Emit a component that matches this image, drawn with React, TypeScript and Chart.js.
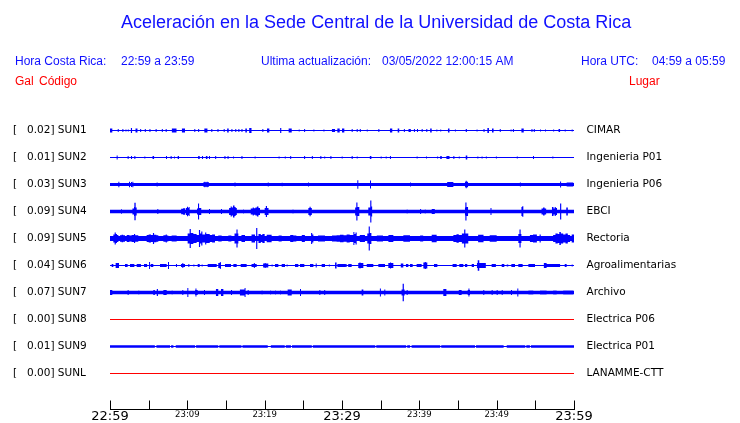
import React, { useEffect, useRef } from 'react';
import { Chart, registerables } from 'chart.js';

Chart.register(...registerables);

// ---------------- data ----------------
const stationCodes = ['SUN1', 'SUN2', 'SUN3', 'SUN4', 'SUN5', 'SUN6', 'SUN7', 'SUN8', 'SUN9', 'SUNL'];
const stationPlaces = ['CIMAR', 'Ingenieria P01', 'Ingenieria P06', 'EBCI', 'Rectoria', 'Agroalimentarias', 'Archivo', 'Electrica P06', 'Electrica P01', 'LANAMME-CTT'];
const peakGal = [0.02, 0.01, 0.03, 0.09, 0.09, 0.04, 0.07, 0.0, 0.01, 0.0];
// background noise half-width of each trace (trace units)
const noiseHalfWidth = [0.5, 0.5, 1.4, 1.7, 2.5, 0.5, 1.7, 0, 1.3, 0];
const hasSignal = [true, true, true, true, true, true, true, false, true, false];

type Burst = [number, number, number]; // [start minute, end minute, half amplitude]

const sun1Bursts: Burst[] = [
  [0, 0.3, 2], [1.0, 1.13, 1.5], [1.6, 1.73, 1.5], [2.0, 2.13, 1], [2.3, 2.43, 1], [2.7, 2.85, 2.5], [3.3, 3.55, 2], [3.9, 4.03, 1.5],
  [4.5, 4.63, 1.5], [5.1, 5.23, 1.5], [5.9, 6.03, 1.5], [6.7, 6.83, 1.5], [7.2, 7.33, 1.5], [8.0, 8.6, 2], [9.3, 9.7, 2], [10.9, 11.03, 1.5],
  [11.4, 11.53, 1.5], [12.2, 12.6, 2], [13.1, 13.23, 1.5], [13.9, 14.03, 1.5], [14.7, 14.83, 1.5], [15.15, 15.35, 2], [15.7, 15.83, 1.5],
  [16.2, 16.33, 1.5], [16.6, 16.73, 1.5], [17.0, 17.13, 1.5], [17.5, 17.7, 2], [18.0, 18.3, 2.5], [19.7, 19.83, 1.5], [20.3, 20.6, 2],
  [22.0, 22.15, 2.5], [23.1, 23.5, 2], [24.4, 24.53, 1], [25.1, 25.23, 1.5], [26.3, 26.43, 1], [27.6, 27.73, 1], [28.7, 29.1, 1.5],
  [29.4, 29.7, 2], [30.0, 30.3, 2], [31.25, 31.38, 1.5], [31.9, 32.03, 1.5], [32.3, 32.43, 1.5], [33.2, 33.33, 1], [34.7, 34.83, 1.5],
  [36.2, 36.5, 2], [37.2, 37.4, 2], [38.0, 38.13, 1.5], [38.6, 38.9, 1.5], [39.3, 39.43, 1.5], [39.7, 39.83, 1.5], [40.3, 40.43, 1.5],
  [40.9, 41.03, 1.5], [41.4, 41.6, 2], [42.2, 42.33, 1], [42.7, 42.83, 1], [43.7, 43.9, 2], [44.6, 44.73, 1], [46.0, 46.15, 1.5],
  [47.4, 47.53, 1], [48.3, 48.43, 1.5], [48.8, 49.0, 2.5], [49.4, 49.6, 2], [50.4, 50.53, 1.5], [51.8, 51.93, 1], [52.1, 52.23, 1.5],
  [53.2, 53.5, 2], [54.5, 54.63, 1.5], [54.8, 54.93, 1.5], [55.6, 55.73, 1], [56.25, 56.38, 1], [57.3, 57.43, 1], [58.0, 58.2, 1.5],
  [58.8, 58.93, 1], [59.7, 59.83, 1],
];

const sun2Bursts: Burst[] = [
  [0.86, 0.99, 2], [2.28, 2.41, 1.5], [2.72, 2.85, 1.5], [3.15, 3.28, 1.5], [4.44, 4.57, 1], [5.5, 5.7, 1.5], [7.24, 7.37, 1.5],
  [7.84, 7.97, 1.5], [8.28, 8.41, 1], [8.75, 8.92, 1.5], [11.4, 11.6, 1.5], [11.9, 12.03, 1.5], [12.4, 12.6, 1.5], [12.8, 12.93, 1.5],
  [13.6, 13.73, 1.5], [14.8, 14.93, 1.5], [15.2, 15.33, 1.5], [15.9, 16.03, 1], [17.0, 17.13, 1.5], [18.7, 18.83, 1], [21.8, 21.93, 1],
  [22.6, 22.73, 1], [23.3, 23.43, 1.5], [25.1, 25.23, 1.5], [26.1, 26.23, 1.5], [27.2, 27.33, 1.5], [27.7, 27.83, 1], [28.5, 28.63, 1.5],
  [29.96, 30.09, 1], [31.25, 31.38, 1.5], [31.9, 32.03, 1], [33.6, 33.8, 1.5], [35.0, 35.13, 1], [35.65, 35.78, 1], [36.2, 36.33, 1.5],
  [39.65, 39.78, 1], [40.86, 40.99, 1], [42.3, 42.43, 1], [42.7, 42.9, 1.5], [43.5, 43.9, 1.5], [44.4, 44.53, 1.5], [45.1, 45.23, 1],
  [46.0, 46.2, 2], [47.5, 47.63, 1], [48.05, 48.18, 1], [48.6, 48.73, 1], [49.9, 50.03, 1], [52.6, 52.73, 1], [54.7, 54.83, 1.5],
  [57.2, 57.33, 1],
];

const sun3Bursts: Burst[] = [
  [1.08, 1.21, 2.7], [2.46, 2.59, 2.7], [2.72, 2.85, 2.5], [2.89, 3.02, 2.7], [6.03, 6.16, 2], [12.07, 12.8, 2.3], [12.2, 12.33, 2.8],
  [12.5, 12.63, 2.8], [16.1, 16.23, 2], [20.4, 20.53, 2], [22.2, 22.33, 1.8], [25.6, 25.73, 2], [31.98, 32.11, 4.3], [33.62, 33.75, 4],
  [38.8, 38.93, 2], [43.6, 44.4, 2.5], [45.9, 46.3, 2.8], [46.0, 46.13, 3.8], [53.0, 53.13, 2], [58.2, 58.33, 3], [59.05, 59.9, 2],
];

const sun4Bursts: Burst[] = [
  [1.42, 1.55, 2.3], [2.9, 3.1, 3], [3.1, 3.15, 4.5], [3.15, 3.32, 8.8], [3.32, 3.45, 4], [6.12, 6.25, 2.5], [9.2, 9.45, 2.8], [9.45, 9.7, 3.3],
  [9.8, 9.95, 3.5], [9.95, 10.1, 4.7], [10.1, 10.2, 3.8], [10.2, 10.3, 4.5], [11.25, 11.38, 3], [11.38, 11.52, 8], [11.52, 11.8, 3.5],
  [12.8, 12.93, 2.5], [14.35, 14.48, 2.5], [15.4, 15.6, 3.5], [15.6, 15.75, 5], [15.75, 15.9, 4], [15.9, 16.1, 6], [16.1, 16.25, 4.5],
  [16.25, 16.4, 3.5], [17.2, 17.33, 2], [18.2, 18.45, 3], [18.45, 18.6, 4], [18.6, 18.8, 3.2], [18.8, 19.0, 4], [19.0, 19.2, 5],
  [19.2, 19.4, 3.5], [20.0, 20.15, 3.5], [20.15, 20.3, 5.5], [20.3, 20.5, 3.5], [23.6, 23.73, 2], [25.65, 25.8, 3.5], [25.8, 25.95, 4.7],
  [25.95, 26.1, 3.5], [31.7, 31.85, 4], [31.85, 32.0, 9], [32.0, 32.24, 4.5], [33.4, 33.65, 4], [33.65, 33.8, 11], [33.8, 33.9, 5],
  [38.36, 38.49, 2], [40.1, 40.23, 2.5], [40.7, 40.83, 2], [41.6, 42.0, 2.5], [45.9, 45.95, 4], [45.95, 46.1, 9], [46.1, 46.3, 4.5],
  [49.2, 49.33, 3.5], [53.2, 53.3, 4.5], [53.3, 53.45, 5.2], [55.8, 56.0, 3], [56.0, 56.2, 4], [56.2, 56.4, 3], [57.15, 57.35, 4.5],
  [57.35, 57.5, 3], [57.5, 57.65, 4.5], [57.65, 57.8, 3.5], [58.2, 58.35, 8], [59.0, 59.2, 4],
];

const sun5Bursts: Burst[] = [
  [0.43, 0.6, 4], [0.6, 0.75, 6], [0.75, 0.9, 4.5], [0.9, 1.08, 3.5], [1.29, 1.5, 3.2], [1.5, 1.7, 3.8], [1.7, 1.94, 3.2],
  [2.16, 2.5, 3.5], [2.5, 2.8, 3], [2.8, 3.1, 3.5], [3.1, 3.25, 4.5], [3.25, 3.66, 3.2], [4.74, 5.0, 3.5], [5.0, 5.3, 4], [5.3, 5.55, 3.5],
  [5.55, 5.7, 5.5], [5.7, 6.0, 3.8], [6.0, 6.25, 3.2], [6.9, 7.2, 3.2], [7.2, 7.35, 4], [7.35, 7.54, 3], [7.97, 8.62, 3],
  [10.04, 10.3, 5], [10.3, 10.45, 9.5], [10.45, 10.78, 5.5], [10.78, 11.2, 4.5], [11.2, 11.5, 3.5], [11.5, 11.65, 8.5], [11.65, 11.8, 5],
  [11.8, 11.95, 7], [11.95, 12.3, 4], [12.3, 12.45, 6], [12.45, 12.9, 4.5], [12.9, 13.2, 3.5], [13.2, 13.58, 4], [14.0, 14.44, 3],
  [15.3, 15.7, 3], [16.1, 16.35, 5], [16.35, 16.5, 9], [16.5, 16.6, 5], [17.0, 17.46, 3.5], [18.3, 18.75, 4], [18.9, 19.05, 10.5],
  [19.2, 19.5, 4.5], [19.5, 19.7, 3.5], [19.7, 20.0, 4.5], [20.26, 20.9, 3.8], [21.8, 22.2, 3], [23.3, 23.7, 3.5], [23.7, 24.1, 3],
  [24.8, 25.2, 3.5], [26.0, 26.15, 5.5], [26.15, 26.3, 4], [26.9, 27.8, 3], [28.7, 29.3, 3], [29.3, 29.74, 3.3], [29.74, 30.2, 3.8],
  [30.2, 30.6, 3.2], [30.6, 31.0, 4], [31.0, 31.47, 3.5], [31.47, 31.6, 6.5], [31.6, 31.75, 4.5], [31.75, 31.9, 6], [32.3, 32.97, 3.5],
  [33.27, 33.45, 5], [33.45, 33.6, 12], [33.6, 33.8, 5.5], [34.5, 35.3, 3], [36.0, 36.64, 3.5], [37.93, 38.79, 3.3], [40.1, 40.5, 3],
  [41.6, 42.24, 3.8], [44.4, 44.8, 3.5], [44.8, 45.1, 4.2], [45.1, 45.5, 3.6], [45.5, 45.8, 5], [45.8, 45.95, 9], [45.95, 46.33, 5],
  [47.6, 48.3, 3.8], [49.1, 50.0, 3.3], [52.8, 52.95, 4.5], [52.95, 53.1, 9], [53.1, 53.2, 4.5], [54.3, 54.7, 3.5], [54.7, 55.2, 4],
  [55.55, 55.7, 4], [57.3, 57.6, 3.5], [57.6, 57.9, 5], [57.9, 58.1, 4.5], [58.1, 58.3, 6.5], [58.3, 58.6, 5], [58.6, 58.9, 4],
  [58.9, 59.2, 5], [59.2, 59.5, 3.5], [59.7, 60, 4],
];

const sun6Bursts: Burst[] = [
  [0.22, 0.43, 1.5], [0.73, 1.16, 2.5], [1.94, 2.28, 1.5], [2.59, 3.15, 1.5], [3.45, 4.0, 1.5], [4.4, 4.8, 1.5], [5.05, 5.18, 3.5],
  [5.26, 5.6, 1.5], [6.47, 7.33, 1.5], [7.5, 7.63, 3.5], [8.53, 8.66, 1.5], [9.18, 9.7, 1.5], [9.35, 9.48, 2.5], [10.13, 10.26, 1.5],
  [10.78, 10.91, 1], [11.34, 11.6, 1.5], [11.85, 11.98, 1], [12.63, 13.8, 1.5], [14.0, 14.35, 2.5], [14.2, 14.33, 3.5], [14.87, 15.65, 1.5],
  [15.95, 16.38, 1.5], [16.9, 17.67, 1.5], [18.3, 18.97, 1.5], [18.6, 18.73, 2.5], [19.8, 20.47, 2], [20.0, 20.13, 2.5], [20.9, 21.03, 1],
  [21.34, 21.77, 1.5], [22.2, 22.63, 1.5], [22.84, 22.97, 1], [23.92, 24.35, 1.5], [24.57, 25.13, 1.5], [25.86, 26.3, 1.5], [26.6, 26.73, 2],
  [27.37, 27.8, 1.5], [28.3, 28.43, 1], [29.1, 29.3, 3], [29.4, 30.39, 1.5], [30.4, 30.6, 1.5], [30.8, 31.25, 1.5], [32.1, 32.76, 2.5],
  [32.25, 32.4, 3], [33.2, 34.05, 1.5], [34.7, 35.56, 1.5], [35.99, 36.64, 2.5], [36.2, 36.35, 3], [37.6, 37.93, 2], [38.27, 38.58, 1.5],
  [38.79, 39.14, 1.5], [39.65, 40.3, 1.5], [40.52, 41.03, 3], [40.7, 40.85, 3.5], [41.9, 42.33, 1.5], [44.3, 44.83, 1.5], [45.17, 45.69, 1.5],
  [45.9, 46.2, 1.5], [46.77, 47.07, 1.5], [47.45, 48.6, 2.5], [47.55, 47.75, 5.3], [49.35, 49.9, 1.5], [50.65, 50.99, 1.5], [51.3, 51.5, 1],
  [51.9, 52.37, 1.5], [52.8, 53.36, 1.5], [54.1, 54.96, 1.5], [56.1, 56.46, 2.5], [56.46, 58.2, 1.5], [58.8, 59.05, 1.5], [59.7, 59.83, 1],
];

const sun7Bursts: Burst[] = [
  [0, 0.3, 2.5], [2.28, 2.41, 2.5], [3.66, 3.79, 2], [5.6, 5.8, 2.5], [6.05, 6.2, 3.5], [6.9, 7.33, 2.5], [7.97, 8.1, 2], [9.35, 9.48, 2.5],
  [10.0, 10.13, 4.5], [11.0, 11.34, 2.5], [11.05, 11.18, 4], [12.15, 12.28, 2.5], [13.7, 14.0, 3.5], [14.35, 14.66, 3.5], [15.65, 15.78, 2.5],
  [16.8, 17.4, 3], [17.4, 17.53, 4.5], [17.8, 17.93, 2.5], [19.6, 19.73, 2], [20.7, 20.83, 2], [21.34, 21.47, 2], [21.98, 22.11, 2],
  [22.97, 23.5, 3], [24.57, 24.7, 3.5], [27.07, 27.2, 2.5], [27.7, 27.83, 2.5], [32.54, 32.76, 3], [34.9, 35.03, 4], [35.47, 35.6, 3],
  [37.7, 38.1, 3], [37.84, 38.0, 8.8], [38.36, 38.49, 2.5], [43.1, 43.5, 3.5], [45.1, 45.47, 2.5], [46.25, 46.55, 2.5], [46.35, 46.48, 4],
  [48.27, 48.4, 2.5], [49.35, 49.48, 2.5], [50.0, 50.13, 2.5], [50.65, 50.78, 2.5], [51.85, 51.98, 2.5], [52.67, 52.8, 4], [54.1, 54.74, 2],
  [55.6, 56.46, 2], [57.3, 57.76, 2], [58.6, 59.9, 2],
];

// quiet stretches (thinner than the usual noise band)
const sun9Bursts: Burst[] = [
  [5.8, 6.0, 0.6], [7.76, 7.9, 0.6], [8.2, 8.5, 0.6], [11.0, 11.13, 0.6], [14.0, 14.13, 0.6], [17.0, 17.13, 0.6], [20.4, 20.8, 0.6],
  [22.6, 22.73, 0.6], [23.4, 23.53, 0.6], [26.1, 26.23, 0.6], [34.3, 34.43, 0.6], [38.3, 38.43, 0.6], [38.8, 39.0, 0.6], [42.7, 42.83, 0.6],
  [47.2, 47.33, 0.6], [50.9, 51.3, 0.6], [53.7, 53.83, 0.6], [54.3, 54.43, 0.6],
];

const burstsByStation: Burst[][] = [sun1Bursts, sun2Bursts, sun3Bursts, sun4Bursts, sun5Bursts, sun6Bursts, sun7Bursts, [], sun9Bursts, []];

const windowMinutes = 60;
const xTickMinutes = [0, 5, 10, 15, 20, 25, 30, 35, 40, 45, 50, 55, 60];
const xTickLabels = ['22:59', '', '23:09', '', '23:19', '', '23:29', '', '23:39', '', '23:49', '', '23:59'];
const majorTimeLabels = ['22:59', '23:29', '23:59'];

const titleText = 'Aceleración en la Sede Central de la Universidad de Costa Rica';
const localTimeCaption = 'Hora Costa Rica:';
const localTimeRange = '22:59 a 23:59';
const updateCaption = 'Ultima actualización:';
const updateStamp = '03/05/2022 12:00:15 AM';
const utcCaption = 'Hora UTC:';
const utcTimeRange = '04:59 a 05:59';
const unitHeader = 'Gal';
const codeHeader = 'Código';
const placeHeader = 'Lugar';

// ---------------- styling / layout ----------------
const ROW_STEP = 27;
const Y_TOP = -20;
const Y_BOTTOM = 280;
const TRACE_BLUE = '#0000ff';
const NO_DATA_RED = '#ff0000';
const HEAD_BLUE = '#1010ff';
const HEAD_RED = '#ff0000';
const SANS = '"DejaVu Sans", sans-serif';
const HEAD = '"Liberation Sans", Arial, sans-serif';

function envelope(bursts: Burst[], base: number) {
  const edges = new Set<number>([0, windowMinutes]);
  bursts.forEach(([s, e]) => {
    edges.add(s);
    edges.add(e);
  });
  const xs = [...edges].sort((a, b) => a - b);
  const out: { x: number; v: number }[] = [];
  xs.forEach((x, k) => {
    if (k === xs.length - 1) {
      out.push({ x, v: out.length ? out[out.length - 1].v : base });
      return;
    }
    const mid = (x + xs[k + 1]) / 2;
    const covering = bursts.filter(([s, e]) => s <= mid && mid < e);
    const v = covering.length ? Math.max(...covering.map((b) => b[2])) : base;
    out.push({ x, v });
  });
  return out;
}

const headerPlugin = {
  id: 'headerText',
  afterDraw(chart: any) {
    const ctx = chart.ctx as CanvasRenderingContext2D;
    ctx.save();
    ctx.textBaseline = 'alphabetic';
    ctx.textAlign = 'left';
    ctx.fillStyle = HEAD_BLUE;
    ctx.font = `18px ${HEAD}`;
    ctx.fillText(titleText, 121, 28);
    ctx.font = `12px ${HEAD}`;
    ctx.fillText(localTimeCaption, 15, 65);
    ctx.fillText(localTimeRange, 121, 65);
    ctx.fillText(updateCaption, 261, 65);
    ctx.fillText(updateStamp, 382, 65);
    ctx.fillText(utcCaption, 581, 65);
    ctx.fillText(utcTimeRange, 652, 65);
    ctx.fillStyle = HEAD_RED;
    ctx.fillText(unitHeader, 15, 85);
    ctx.fillText(codeHeader, 39, 85);
    ctx.fillText(placeHeader, 629, 85);
    ctx.restore();
  },
};

const timeAxisPlugin = {
  id: 'timeAxisMarks',
  afterDraw(chart: any) {
    const ctx = chart.ctx as CanvasRenderingContext2D;
    const xs = chart.scales.x;
    const base = Math.floor(chart.chartArea.bottom) - 0.5;
    ctx.save();
    ctx.strokeStyle = '#000';
    ctx.lineWidth = 1;
    ctx.beginPath();
    const x0 = Math.round(xs.getPixelForValue(0));
    const x1 = Math.round(xs.getPixelForValue(windowMinutes)) + 1;
    ctx.moveTo(x0, base);
    ctx.lineTo(x1, base);
    xTickMinutes.forEach((m) => {
      const px = Math.round(xs.getPixelForValue(m)) + 0.5;
      ctx.moveTo(px, base - 9);
      ctx.lineTo(px, base);
    });
    ctx.stroke();
    ctx.restore();
  },
};

const clearPadding = (scale: any) => {
  scale.paddingTop = 0;
  scale.paddingBottom = 0;
  scale.paddingLeft = 0;
  scale.paddingRight = 0;
};

export default function App() {
  const canvasRef = useRef<HTMLCanvasElement | null>(null);

  useEffect(() => {
    if (!canvasRef.current) return;
    const datasets: any[] = [];
    stationCodes.forEach((code, i) => {
      const c = i * ROW_STEP;
      if (!hasSignal[i]) {
        datasets.push({
          label: code,
          data: [
            { x: 0, y: c },
            { x: windowMinutes, y: c },
          ],
          borderColor: NO_DATA_RED,
          borderWidth: 1,
          pointRadius: 0,
          fill: false,
        });
        return;
      }
      const env = envelope(burstsByStation[i], noiseHalfWidth[i]);
      datasets.push({
        label: code + ' +',
        data: env.map((p) => ({ x: p.x, y: c - p.v })),
        borderColor: 'rgba(0,0,0,0)',
        borderWidth: 0,
        pointRadius: 0,
        stepped: true,
        fill: false,
      });
      datasets.push({
        label: code + ' -',
        data: env.map((p) => ({ x: p.x, y: c + p.v })),
        borderColor: 'rgba(0,0,0,0)',
        borderWidth: 0,
        pointRadius: 0,
        stepped: true,
        fill: '-1',
        backgroundColor: TRACE_BLUE,
      });
    });

    const leftLabels = stationCodes.map((code, i) => `[   ${peakGal[i].toFixed(2)}] ${code}`);
    const rowTicks = (scale: any) => {
      scale.ticks = stationCodes.map((_, i) => ({ value: i * ROW_STEP }));
    };

    const chart = new Chart(canvasRef.current, {
      type: 'line',
      data: { datasets },
      plugins: [headerPlugin, timeAxisPlugin],
      options: {
        responsive: false,
        animation: false,
        events: [],
        layout: { padding: { left: 12.9, right: 0, top: 110.5, bottom: 0 } },
        plugins: {
          legend: { display: false },
          title: { display: false },
          tooltip: { enabled: false },
        },
        scales: {
          x: {
            type: 'linear',
            min: 0,
            max: windowMinutes,
            position: 'bottom',
            afterBuildTicks: (scale: any) => {
              scale.ticks = xTickMinutes.map((m) => ({ value: m }));
            },
            afterFit: (scale: any) => {
              scale.height = 12.5;
              clearPadding(scale);
            },
            grid: { display: false, drawTicks: false, tickLength: 0 },
            border: { display: false },
            ticks: {
              autoSkip: false,
              maxRotation: 0,
              padding: 0,
              color: '#000',
              callback: (_v: any, i: number) => xTickLabels[i],
              font: (ctx: any) => {
                const major = majorTimeLabels.includes(xTickLabels[ctx.index]);
                return { family: SANS, size: major ? 13 : 8.5, lineHeight: major ? 0.9 : 1 };
              },
            },
          },
          y: {
            type: 'linear',
            position: 'left',
            min: Y_TOP,
            max: Y_BOTTOM,
            reverse: true,
            afterBuildTicks: rowTicks,
            afterFit: (scale: any) => {
              scale.width = 97.1;
              clearPadding(scale);
            },
            grid: { display: false, drawTicks: false, tickLength: 0 },
            border: { display: false },
            ticks: {
              autoSkip: false,
              crossAlign: 'far',
              padding: 0,
              color: '#000',
              font: { family: SANS, size: 10.5 },
              callback: (_v: any, i: number) => leftLabels[i],
            },
          },
          y2: {
            type: 'linear',
            position: 'right',
            min: Y_TOP,
            max: Y_BOTTOM,
            reverse: true,
            afterBuildTicks: rowTicks,
            afterFit: (scale: any) => {
              scale.width = 166;
              clearPadding(scale);
            },
            grid: { display: false, drawTicks: false, tickLength: 0 },
            border: { display: false },
            ticks: {
              autoSkip: false,
              padding: 12.5,
              color: '#000',
              font: { family: SANS, size: 10.5 },
              callback: (_v: any, i: number) => stationPlaces[i],
            },
          },
        },
      } as any,
    });
    return () => chart.destroy();
  }, []);

  return (
    <div style={{ position: 'absolute', left: 0, top: 0, width: 740, height: 423, background: '#fff' }}>
      <canvas ref={canvasRef} width={740} height={423} style={{ width: 740, height: 423, display: 'block' }} />
    </div>
  );
}
